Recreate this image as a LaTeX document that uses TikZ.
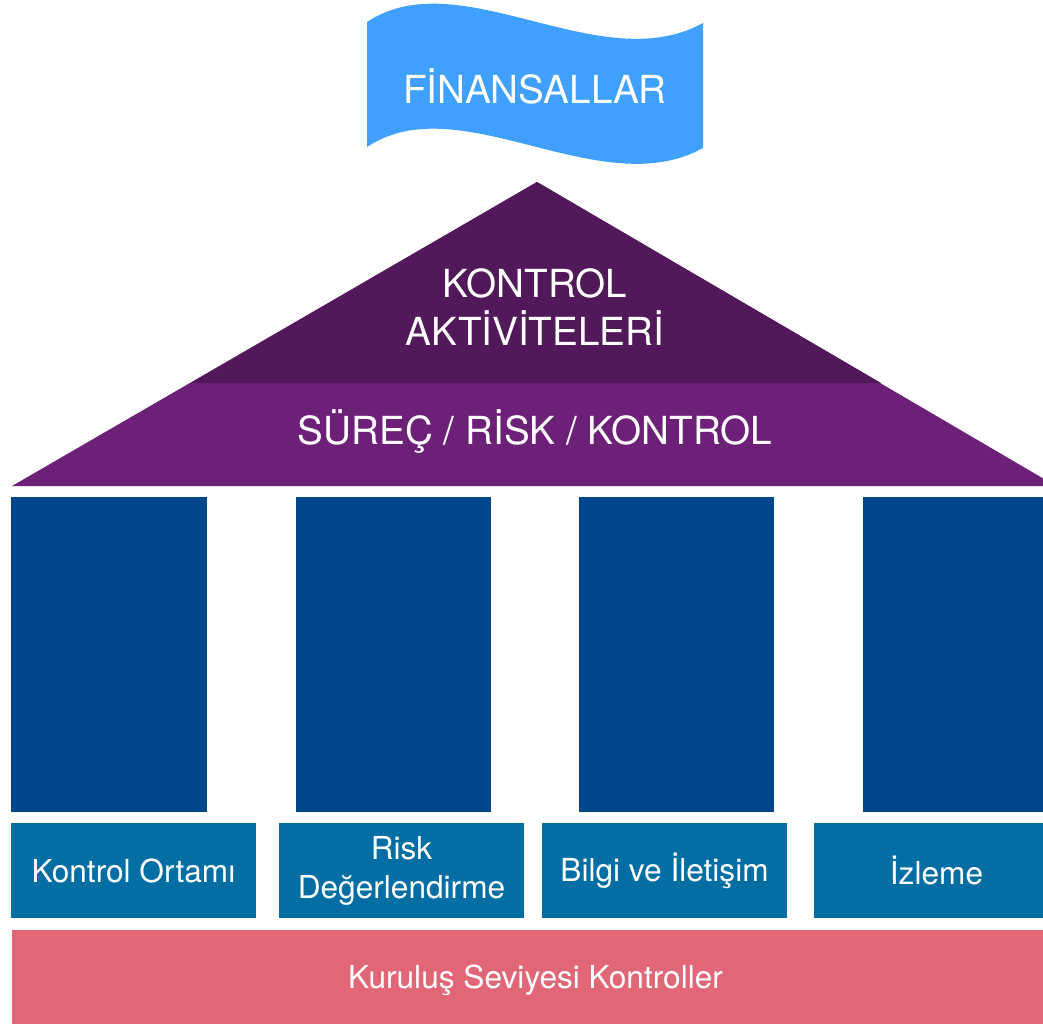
\documentclass[tikz,border=0pt]{standalone}
\usepackage{fontspec}
\setmainfont{TeX Gyre Heros}
\definecolor{bannerblue}{HTML}{3FA0FF}
\definecolor{roofdark}{HTML}{52195A}
\definecolor{roofpurple}{HTML}{6D2077}
\definecolor{pillarblue}{HTML}{00468B}
\definecolor{boxblue}{HTML}{036EA3}
\definecolor{baserose}{HTML}{E16777}
\begin{document}
\begin{tikzpicture}[x=0.02cm, y=-0.02cm,
    bigtext/.style={text=white, font=\fontsize{22}{27.3}\selectfont, align=center},
    pillar/.style={fill=pillarblue, minimum width=3.92cm, minimum height=6.3cm, inner sep=0pt},
    pillarbox/.style={fill=boxblue, minimum width=4.9cm, minimum height=1.9cm, inner sep=0pt,
        text=white, align=center, font=\fontsize{18}{22.2}\selectfont},
    basebar/.style={fill=baserose, minimum width=20.94cm, minimum height=1.88cm, inner sep=0pt,
        text=white, font=\fontsize{18}{22.2}\selectfont, text height=12.9pt, text depth=0pt}]
    \useasboundingbox (0,0) rectangle (1043,1024);
    \clip (0,0) rectangle (1043,1024);
    % banner
    \fill[bannerblue] (367,22) .. controls (460,-40) and (600,80) .. (703,23)
        -- (703,148) .. controls (600,205) and (460,85) .. (367,147) -- cycle;
    \node[bigtext] (fin) at (535,86) {FİNANSALLAR};
    % roof
    \fill[roofpurple] (537,182) -- (1056,486) -- (12,486) -- cycle;
    \fill[roofdark] (537,182) -- (881,383) -- (191,383) -- cycle;
    \node[bigtext] (act) at (535,307) {KONTROL\\AKTİVİTELERİ};
    \node[bigtext] (srk) at (535,432) {SÜREÇ / RİSK / KONTROL};
    % pillars
    \node[pillar] (p1) at (109,654.5) {};
    \node[pillar] (p2) at (393.5,654.5) {};
    \node[pillar] (p3) at (676.5,654.5) {};
    \node[pillar] (p4) at (961,654.5) {};
    % components
    \node[pillarbox] (b1) at (133.5,870.5) {Kontrol Ortamı};
    \node[pillarbox] (b2) at (401.5,870.5) {Risk\\Değerlendirme};
    \node[pillarbox] (b3) at (664.5,870.5) {Bilgi ve İletişim};
    \node[pillarbox] (b4) at (936.5,870.5) {İzleme};
    % base
    \node[basebar] (base) at (535.5,977) {Kuruluş Seviyesi Kontroller};
\end{tikzpicture}
\end{document}
